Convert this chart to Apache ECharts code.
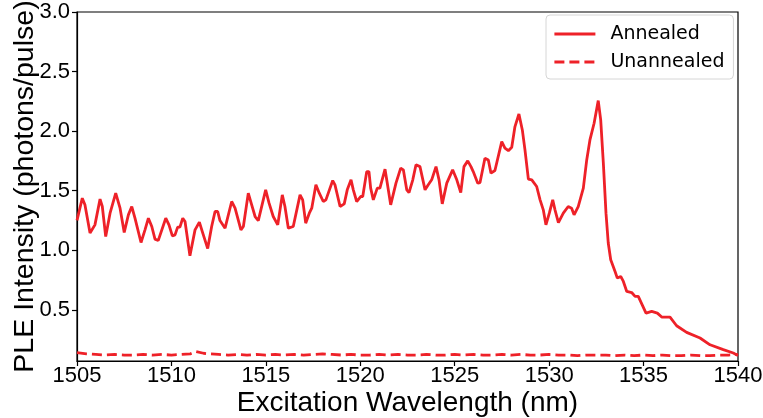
<!DOCTYPE html>
<html>
<head>
<meta charset="utf-8">
<script src="https://cdn.jsdelivr.net/npm/echarts@6/dist/echarts.min.js"></script>
<style>
  html, body { margin: 0; padding: 0; background: #fff; }
  #chart { width: 763px; height: 418px; }
</style>
</head>
<body>
<div id="chart"></div>
<script>
// wavelength (nm) / PLE intensity
const annealedX = [1505.0, 1505.28, 1505.42, 1505.69, 1505.95, 1506.04, 1506.22, 1506.34, 1506.52, 1506.60,
  1506.75, 1507.05, 1507.28, 1507.50, 1507.72, 1507.90, 1508.07, 1508.39, 1508.60, 1508.78,
  1508.96, 1509.13, 1509.30, 1509.70, 1509.87, 1510.05, 1510.19, 1510.33, 1510.45, 1510.60,
  1510.72, 1510.98, 1511.25, 1511.48, 1511.66, 1511.92, 1512.13, 1512.31, 1512.45, 1512.57,
  1512.84, 1513.19, 1513.37, 1513.68, 1513.81, 1514.07, 1514.25, 1514.43, 1514.60, 1514.99,
  1515.17, 1515.39, 1515.63, 1515.87, 1516.01, 1516.19, 1516.45, 1516.54, 1516.81, 1516.95,
  1517.11, 1517.30, 1517.43, 1517.65, 1517.83, 1518.04, 1518.18, 1518.54, 1518.66, 1518.93,
  1519.15, 1519.31, 1519.51, 1519.63, 1519.81, 1520.02, 1520.13, 1520.34, 1520.46, 1520.55,
  1520.69, 1520.90, 1521.04, 1521.31, 1521.43, 1521.61, 1521.89, 1522.14, 1522.28, 1522.46,
  1522.58, 1522.78, 1522.95, 1523.16, 1523.43, 1523.60, 1523.78, 1524.01, 1524.17, 1524.34,
  1524.58, 1524.89, 1525.11, 1525.32, 1525.49, 1525.69, 1525.86, 1525.98, 1526.22, 1526.34,
  1526.60, 1526.78, 1526.92, 1527.13, 1527.49, 1527.66, 1527.84, 1528.02, 1528.19, 1528.40,
  1528.58, 1528.72, 1528.90, 1529.08, 1529.34, 1529.52, 1529.69, 1529.83, 1530.01, 1530.19,
  1530.31, 1530.49, 1530.75, 1531.01, 1531.19, 1531.32, 1531.54, 1531.81, 1531.99, 1532.16,
  1532.38, 1532.60, 1532.73, 1532.87, 1533.01, 1533.13, 1533.26, 1533.49, 1533.61, 1533.79,
  1533.93, 1534.11, 1534.37, 1534.55, 1534.72, 1535.13, 1535.43, 1535.73, 1535.96, 1536.40,
  1536.75, 1537.28, 1537.99, 1538.52, 1539.22, 1539.75, 1540.0];
const annealedY = [1.25, 1.437, 1.381, 1.144, 1.213, 1.227, 1.429, 1.367, 1.115, 1.110,
  1.311, 1.479, 1.353, 1.149, 1.297, 1.367, 1.269, 1.065, 1.171, 1.269,
  1.199, 1.093, 1.081, 1.269, 1.213, 1.121, 1.129, 1.194, 1.194, 1.269,
  1.241, 0.953, 1.171, 1.236, 1.144, 1.014, 1.199, 1.325, 1.325, 1.249,
  1.185, 1.409, 1.353, 1.171, 1.199, 1.479, 1.381, 1.283, 1.249, 1.507,
  1.395, 1.283, 1.213, 1.465, 1.367, 1.185, 1.199, 1.186, 1.465, 1.423,
  1.227, 1.311, 1.353, 1.549, 1.479, 1.409, 1.423, 1.585, 1.549, 1.367,
  1.389, 1.507, 1.591, 1.507, 1.409, 1.451, 1.451, 1.660, 1.660, 1.521,
  1.423, 1.521, 1.521, 1.680, 1.563, 1.381, 1.563, 1.689, 1.675, 1.507,
  1.484, 1.591, 1.717, 1.702, 1.507, 1.549, 1.591, 1.702, 1.591, 1.389,
  1.563, 1.675, 1.591, 1.484, 1.702, 1.750, 1.702, 1.660, 1.563, 1.568,
  1.773, 1.758, 1.647, 1.669, 1.912, 1.857, 1.836, 1.865, 2.038, 2.144,
  2.010, 1.842, 1.597, 1.591, 1.535, 1.423, 1.339, 1.213, 1.311, 1.423,
  1.339, 1.232, 1.311, 1.367, 1.353, 1.297, 1.367, 1.521, 1.758, 1.926,
  2.066, 2.256, 2.094, 1.731, 1.311, 1.060, 0.920, 0.821, 0.766, 0.780,
  0.738, 0.654, 0.645, 0.612, 0.612, 0.472, 0.486, 0.472, 0.439, 0.439,
  0.366, 0.310, 0.263, 0.206, 0.165, 0.137, 0.115];

const unannealedX = [1505, 1505.5, 1506, 1506.5, 1507, 1507.5, 1508, 1508.5, 1509, 1509.5,
  1510, 1510.5, 1511, 1511.3, 1511.7, 1512, 1512.5, 1513, 1513.5, 1514, 1514.5, 1515,
  1515.5, 1516, 1516.5, 1517, 1517.5, 1518, 1518.5, 1519, 1519.5, 1520, 1520.5, 1521,
  1521.5, 1522, 1522.5, 1523, 1523.5, 1524, 1524.5, 1525, 1525.5, 1526, 1526.5, 1527,
  1527.5, 1528, 1528.5, 1529, 1529.5, 1530, 1530.5, 1531, 1531.5, 1532, 1532.5, 1533,
  1533.5, 1534, 1534.5, 1535, 1535.5, 1536, 1536.5, 1537, 1537.5, 1538, 1538.5, 1539,
  1539.5, 1540];
const unannealedY = [0.14, 0.13, 0.125, 0.12, 0.125, 0.12, 0.12, 0.125, 0.12, 0.125,
  0.12, 0.125, 0.13, 0.15, 0.135, 0.13, 0.125, 0.12, 0.125, 0.12, 0.125, 0.12,
  0.125, 0.12, 0.125, 0.12, 0.125, 0.13, 0.125, 0.12, 0.125, 0.12, 0.12, 0.125,
  0.12, 0.125, 0.12, 0.12, 0.125, 0.12, 0.12, 0.125, 0.12, 0.125, 0.12, 0.12,
  0.125, 0.12, 0.125, 0.12, 0.12, 0.125, 0.12, 0.12, 0.115, 0.12, 0.12, 0.12,
  0.115, 0.12, 0.115, 0.12, 0.115, 0.12, 0.115, 0.115, 0.12, 0.115, 0.115, 0.12,
  0.12, 0.125];

const xTicks = [1505, 1510, 1515, 1520, 1525, 1530, 1535, 1540];
const yTicks = [0.5, 1.0, 1.5, 2.0, 2.5, 3.0];

const red = '#ee2128';
const tickFont = 'Liberation Sans, Arial, sans-serif';

const zip = (xs, ys) => xs.map((x, i) => [x, ys[i]]);

const chart = echarts.init(document.getElementById('chart'));
chart.setOption({
  animation: false,
  backgroundColor: '#fff',
  grid: {
    left: 77,
    right: 25,
    top: 12,
    bottom: 57,
    containLabel: false,
    outerBoundsMode: 'none',
    show: true,
    borderColor: '#000',
    borderWidth: 1.2
  },
  legend: {
    orient: 'vertical',
    left: 546,
    top: 15,
    padding: [8, 9, 6, 7],
    itemWidth: 41,
    itemHeight: 14,
    itemGap: 6,
    // line series always adds a marker to its legend icon; hide it
    itemStyle: { opacity: 0 },
    lineStyle: { width: 2.8 },
    borderColor: '#d6d6d6',
    borderWidth: 1,
    borderRadius: 4,
    textStyle: {
      fontFamily: 'DejaVu Sans',
      fontSize: 19,
      color: '#000',
      lineHeight: 22,
      padding: [0, 0, 0, 10]
    },
    data: ['Annealed', 'Unannealed']
  },
  xAxis: {
    type: 'value',
    min: 1505,
    max: 1540,
    interval: 5,
    name: 'Excitation Wavelength (nm)',
    nameLocation: 'middle',
    nameMoveOverlap: false,
    nameGap: 28,
    nameTextStyle: { fontFamily: tickFont, fontSize: 28, color: '#000' },
    axisLine: { show: true, lineStyle: { color: '#000', width: 1.2 } },
    axisTick: { show: true, inside: false, length: 5, lineStyle: { color: '#000', width: 1.2 } },
    axisLabel: {
      margin: 4,
      fontFamily: tickFont,
      fontSize: 22,
      color: '#000',
      customValues: xTicks,
      formatter: v => String(v)
    },
    splitLine: { show: false }
  },
  yAxis: {
    type: 'value',
    min: 0.07,
    max: 3.0,
    name: 'PLE Intensity (photons/pulse)',
    nameLocation: 'middle',
    nameMoveOverlap: false,
    nameGap: 37,
    nameTextStyle: { fontFamily: tickFont, fontSize: 28.5, color: '#000' },
    axisLine: { show: true, lineStyle: { color: '#000', width: 1.2 } },
    axisTick: {
      show: true, inside: false, length: 5,
      lineStyle: { color: '#000', width: 1.2 },
      customValues: yTicks
    },
    axisLabel: {
      margin: 7,
      fontFamily: tickFont,
      fontSize: 22,
      color: '#000',
      customValues: yTicks,
      formatter: v => v.toFixed(1)
    },
    splitLine: { show: false }
  },
  series: [
    {
      name: 'Annealed',
      type: 'line',
      symbol: 'none',
      data: zip(annealedX, annealedY),
      lineStyle: { color: red, width: 2.8 },
      itemStyle: { color: red }
    },
    {
      name: 'Unannealed',
      type: 'line',
      symbol: 'none',
      data: zip(unannealedX, unannealedY),
      lineStyle: { color: red, width: 2.8, type: [10, 5] },
      itemStyle: { color: red }
    }
  ]
});
</script>
</body>
</html>
